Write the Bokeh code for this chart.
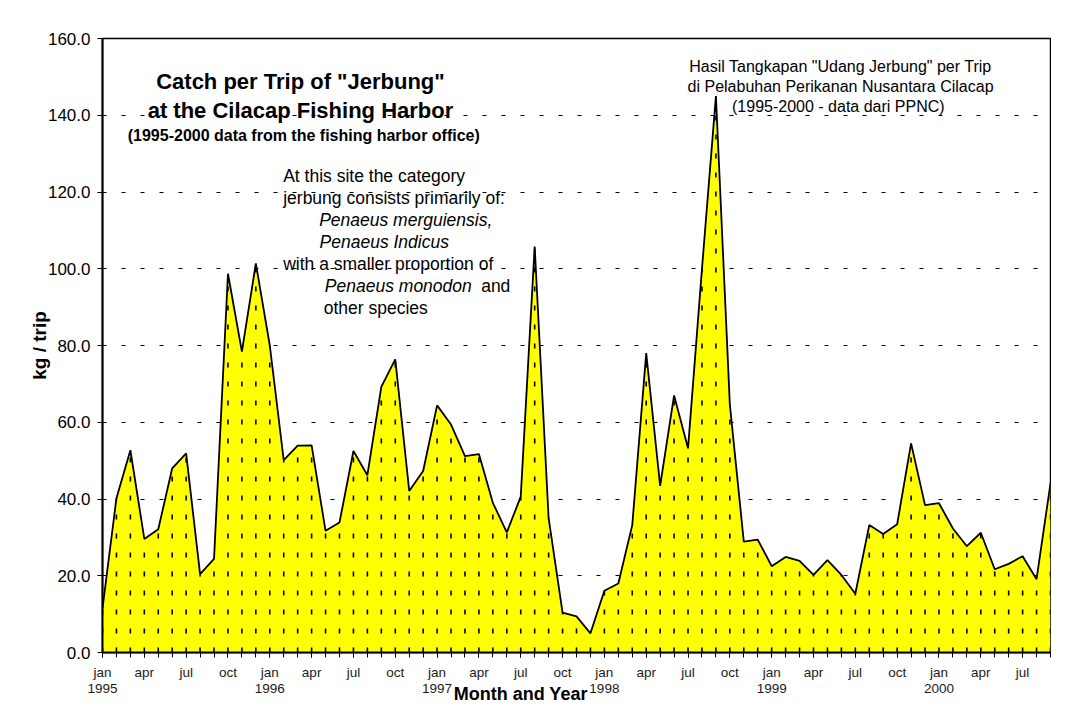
from bokeh.plotting import figure
from bokeh.models import Label, Range1d, FixedTicker, PrintfTickFormatter, LinearAxis
from bokeh.embed import file_html
from bokeh.resources import INLINE

# ---- data ----
month_names = ["jan", "feb", "mar", "apr", "may", "jun",
               "jul", "aug", "sep", "oct", "nov", "dec"]
years = [1995, 1996, 1997, 1998, 1999, 2000]
catch_1995 = [11.5, 40.2, 52.7, 29.6, 32.1, 48.0, 51.9, 20.4, 24.4, 98.7, 78.4, 101.4]
catch_1996 = [80.0, 50.1, 53.9, 54.0, 31.7, 33.9, 52.5, 46.2, 69.2, 76.4, 42.1, 47.3]
catch_1997 = [64.4, 59.4, 51.2, 51.7, 39.0, 31.3, 40.6, 105.8, 35.0, 10.4, 9.4, 5.0]
catch_1998 = [16.1, 18.0, 33.2, 78.0, 43.4, 67.0, 53.2, 100.0, 145.0, 64.6, 28.9, 29.4]
catch_1999 = [22.5, 24.9, 23.9, 20.2, 24.1, 20.2, 15.3, 33.2, 30.9, 33.4, 54.5, 38.4]
catch_2000 = [38.9, 32.3, 27.7, 31.2, 21.7, 23.1, 25.1, 19.1, 44.1]
y_ticks = [0, 20, 40, 60, 80, 100, 120, 140, 160]

catch = catch_1995 + catch_1996 + catch_1997 + catch_1998 + catch_1999 + catch_2000
n = len(catch)
xs = list(range(n))

FONT = "Liberation Sans"

p = figure(width=1051, height=706,
           x_range=Range1d(0, n - 1), y_range=Range1d(0, 160),
           output_backend="svg", toolbar_location=None,
           min_border_left=102, min_border_right=1,
           min_border_top=38, min_border_bottom=53)
p.background_fill_color = "white"
p.border_fill_color = "white"
p.outline_line_color = "black"
p.outline_line_width = 1.5

# area with dotted vertical hatch
p.varea(x=xs, y1=[0] * n, y2=catch, fill_color="#FFFF00")
p.segment(x0=xs, y0=[0] * n, x1=xs, y1=catch, line_color="black",
          line_width=1.6, line_dash="5 14")
p.line(xs, catch, line_color="black", line_width=1.8)

# main x axis: months
major = list(range(0, n, 3))
p.xaxis.ticker = FixedTicker(ticks=major, minor_ticks=xs)
p.xaxis.major_label_overrides = {m: month_names[m % 12] for m in major}
p.xaxis.major_tick_in = 0
p.xaxis.major_tick_out = 5
p.xaxis.minor_tick_in = 0
p.xaxis.minor_tick_out = 5
p.xaxis.axis_line_width = 2
p.xaxis.major_label_text_font = FONT
p.xaxis.major_label_text_font_size = "13.5px"
p.xaxis.major_label_text_color = "#1a1a1a"
p.xaxis.major_label_standoff = 7

# second row: years
year_ticks = [12 * i for i in range(len(years))]
year_axis = LinearAxis(
    ticker=FixedTicker(ticks=year_ticks),
    major_label_overrides={t: str(y) for t, y in zip(year_ticks, years)},
    axis_line_color=None, major_tick_line_color=None, minor_tick_line_color=None,
    major_tick_in=0, major_tick_out=0, minor_tick_in=0, minor_tick_out=0,
    major_label_standoff=1, major_label_text_font=FONT,
    major_label_text_font_size="13.5px", major_label_text_color="#1a1a1a")
p.add_layout(year_axis, "below")

# third row: axis title, placed as in the original (left of centre)
title_axis = LinearAxis(
    ticker=FixedTicker(ticks=[30]),
    major_label_overrides={30: "Month and Year"},
    axis_line_color=None, major_tick_line_color=None, minor_tick_line_color=None,
    major_tick_in=0, major_tick_out=0, minor_tick_in=0, minor_tick_out=0,
    major_label_standoff=-12, major_label_text_font=FONT,
    major_label_text_font_size="18px", major_label_text_font_style="bold",
    major_label_text_color="black")
p.add_layout(title_axis, "below")

# y axis
p.yaxis.ticker = FixedTicker(ticks=y_ticks)
p.yaxis.formatter = PrintfTickFormatter(format="%.1f")
p.yaxis.major_tick_in = 0
p.yaxis.major_tick_out = 5
p.yaxis.minor_tick_line_color = None
p.yaxis.axis_line_width = 2
p.yaxis.major_label_text_font = FONT
p.yaxis.major_label_text_font_size = "17px"
p.yaxis.major_label_text_color = "black"
p.yaxis.major_label_standoff = 7
p.yaxis.axis_label = "kg / trip"
p.yaxis.axis_label_text_font = FONT
p.yaxis.axis_label_text_font_size = "19px"
p.yaxis.axis_label_text_font_style = "bold"
p.yaxis.axis_label_text_color = "black"
p.yaxis.axis_label_standoff = -5

p.xgrid.grid_line_color = None
p.ygrid.ticker = FixedTicker(ticks=y_ticks)
p.ygrid.grid_line_color = "black"
p.ygrid.grid_line_width = 1
p.ygrid.grid_line_dash = "4 15"


def lab(x, y, text, size, style="normal", align="left"):
    p.add_layout(Label(x=x, y=y, text=text, text_font=FONT,
                       text_font_size=size, text_font_style=style,
                       text_align=align, text_baseline="alphabetic",
                       text_color="black"))


# title block
lab(14.2, 148.8, 'Catch per Trip of "Jerbung"', "22px", "bold", "center")
lab(14.2, 141.2, "at the Cilacap Fishing Harbor", "22px", "bold", "center")
lab(1.81, 134.8, "(1995-2000 data from the fishing harbor office)", "16px", "bold")

# species note
lab(12.96, 124.2, "At this site the category", "17.5px")
lab(12.96, 118.4, "jerbung consists primarily of:", "17.5px")
lab(15.54, 112.7, "Penaeus merguiensis,", "17.5px", "italic")
lab(15.57, 107.0, "Penaeus Indicus", "17.5px", "italic")
lab(12.96, 101.3, "with a smaller proportion of", "17.5px")
lab(15.95, 95.6, "Penaeus monodon", "17.5px", "italic")
lab(27.16, 95.6, "and", "17.5px")
lab(15.87, 89.8, "other species", "17.5px")

# Indonesian note
lab(52.94, 152.8, 'Hasil Tangkapan "Udang Jerbung" per Trip', "16px", "normal", "center")
lab(52.94, 147.6, "di Pelabuhan Perikanan Nusantara Cilacap", "16px", "normal", "center")
lab(52.94, 142.4, "(1995-2000 -  data dari PPNC)", "16px", "normal", "center")

open("out.html", "w").write(file_html(p, INLINE))
